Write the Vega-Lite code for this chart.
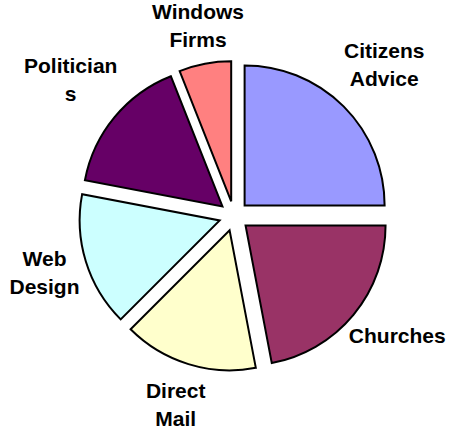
{
  "$schema": "https://vega.github.io/schema/vega-lite/v6.json",
  "width": 461,
  "height": 428,
  "autosize": {"type": "fit", "contains": "padding"},
  "padding": 0,
  "background": "white",
  "config": {"view": {"stroke": null}},
  "data": {
    "values": [
      {"group": "Citizens Advice", "label": "Citizens\nAdvice", "share": 25, "order": 1},
      {"group": "Churches", "label": "Churches", "share": 22, "order": 2},
      {"group": "Direct Mail", "label": "Direct\nMail", "share": 15.5, "order": 3},
      {"group": "Web Design", "label": "Web\nDesign", "share": 15.5, "order": 4},
      {"group": "Politicians", "label": "Politician\ns", "share": 16, "order": 5},
      {"group": "Windows Firms", "label": "Windows\nFirms", "share": 6, "order": 6}
    ]
  },
  "transform": [
    {"window": [{"op": "sum", "field": "share", "as": "cum"}], "sort": [{"field": "order"}], "frame": [null, 0]},
    {"joinaggregate": [{"op": "sum", "field": "share", "as": "total"}]},
    {"calculate": "datum.cum - datum.share", "as": "start"},
    {"calculate": "datum.cum - datum.share / 2", "as": "mid"},
    {"calculate": "sin(2 * PI * datum.mid / datum.total)", "as": "ux"},
    {"calculate": "cos(2 * PI * datum.mid / datum.total)", "as": "uy"},
    {"calculate": "abs(datum.ux * datum.uy)", "as": "diag"}
  ],
  "encoding": {
    "x": {"field": "ux", "type": "quantitative", "scale": {"domain": [-1, 1], "range": [219, 249], "zero": false, "nice": false}, "axis": null},
    "y": {"field": "uy", "type": "quantitative", "scale": {"domain": [-1, 1], "range": [231, 201], "zero": false, "nice": false}, "axis": null}
  },
  "layer": [
    {
      "mark": {"type": "arc", "radius": 140, "stroke": "black", "strokeWidth": 2},
      "encoding": {
        "theta": {"field": "start", "type": "quantitative", "stack": null, "scale": {"domain": [0, 100], "range": [0, 6.283185307179586]}},
        "theta2": {"field": "cum"},
        "color": {
          "field": "group",
          "type": "nominal",
          "scale": {
            "domain": ["Citizens Advice", "Churches", "Direct Mail", "Web Design", "Politicians", "Windows Firms"],
            "range": ["#9999FF", "#993366", "#FFFFCC", "#CCFFFF", "#660066", "#FF8080"]
          },
          "legend": null
        }
      }
    },
    {
      "mark": {"type": "text", "font": "Liberation Sans", "fontWeight": "bold", "fontSize": 21, "lineBreak": "\n", "lineHeight": 28, "dy": -14, "align": "center", "baseline": "middle", "color": "black"},
      "encoding": {
        "theta": {"field": "mid", "type": "quantitative", "stack": null},
        "radius": {"field": "diag", "type": "quantitative", "scale": {"type": "linear", "domain": [0, 0.5], "range": [165, 197.5], "zero": false, "nice": false}},
        "text": {"field": "label"}
      }
    }
  ]
}
